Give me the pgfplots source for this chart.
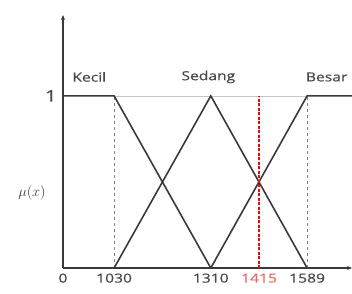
\documentclass[border=0pt]{standalone}
\usepackage{pgfplots}
\pgfplotsset{compat=1.18}
\usepackage{fontspec}
\setmainfont{Open Sans}[FakeStretch=1.25, FakeBold=0.6]
\usetikzlibrary{arrows.meta}
\definecolor{linecol}{HTML}{3A3A3A}
\definecolor{textcol}{HTML}{4A4A4A}
\definecolor{redtext}{HTML}{E86A6A}
\begin{document}
\begin{tikzpicture}
\useasboundingbox (-63pt,-25pt) rectangle (289pt,268pt);
\begin{axis}[
  scale only axis, width=289pt, height=253pt,
  anchor=south west, at={(0,0)},
  xmin=882, xmax=1719, ymin=0, ymax=1.47,
  axis lines=left,
  axis line style={linecol, line width=1.4pt, -{Stealth[length=5pt,width=4pt]}},
  xtick={882,1030,1310,1589}, xticklabels={0,1030,1310,1589},
  extra x ticks={1450}, extra x tick labels={1415},
  extra x tick style={grid=none, xticklabel style={text=redtext}},
  ytick={1}, yticklabels={1},
  major tick length=0pt,
  tick label style={font=\fontsize{12.5}{12.5}\selectfont, text=textcol},
  xticklabel style={yshift=-2pt},
  yticklabel style={font=\fontsize{16}{16}\selectfont, xshift=-3pt},
  clip=false,
]
\addplot[color=gray!45, line width=0.4pt] coordinates {(1030,1) (1589,1)};
\addplot[color=gray, dashed, line width=0.5pt] coordinates {(1030,0) (1030,1)};
\addplot[color=gray, dashed, line width=0.5pt] coordinates {(1589,0) (1589,1)};
\addplot[color=linecol, line width=1.6pt] coordinates {(882,1) (1030,1) (1310,0)};
\addplot[color=linecol, line width=1.6pt] coordinates {(1030,0) (1310,1) (1589,0)};
\addplot[color=linecol, line width=1.6pt] coordinates {(1310,0) (1589,1) (1719,1)};
\addplot[draw=red, line width=1.3pt, dash pattern=on 3pt off 1.5pt] coordinates {(1450,0) (1450,1)};
\node[text=textcol, font=\fontsize{12.5}{12.5}\selectfont] at (axis cs:958,1.11) {Kecil};
\node[text=textcol, font=\fontsize{12.5}{12.5}\selectfont] at (axis cs:1303,1.11) {Sedang};
\node[text=textcol, font=\fontsize{12.5}{12.5}\selectfont, anchor=west, inner xsep=0pt] at (axis cs:1585,1.11) {Besar};
\node[text=linecol, font=\fontsize{15}{15}\selectfont] at ([xshift=-31pt]axis cs:882,0.436) {$\mu(x)$};
\end{axis}
\end{tikzpicture}
\end{document}
